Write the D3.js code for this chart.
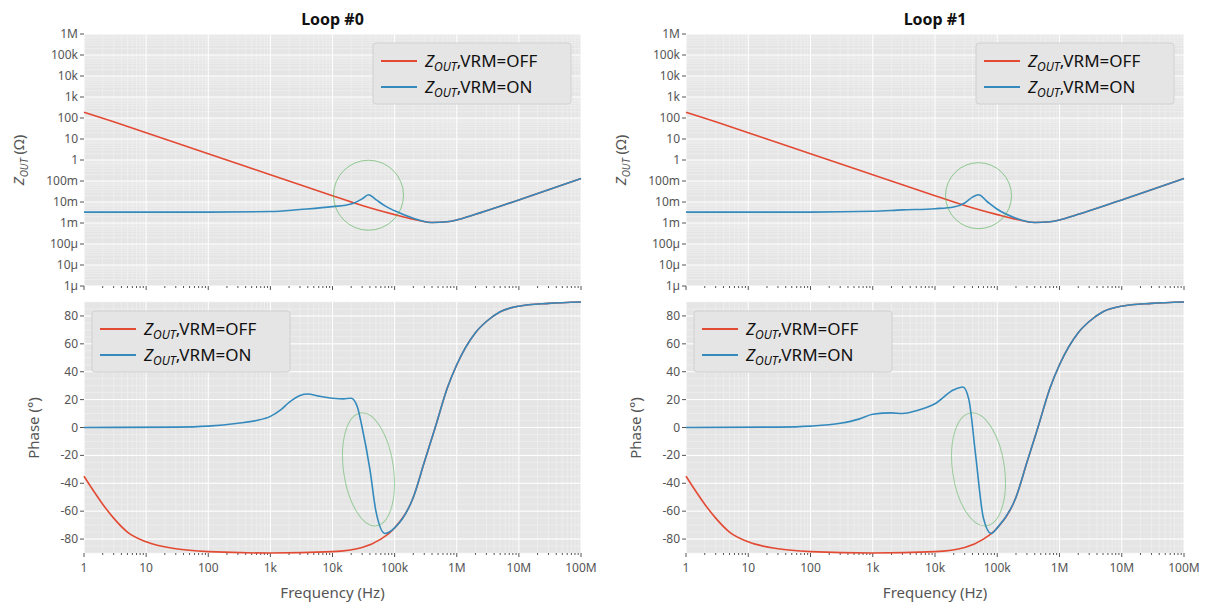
<!DOCTYPE html>
<html><head><meta charset="utf-8">
<script src="https://cdn.jsdelivr.net/npm/d3@7"></script>
<style>body{margin:0;background:#fff}text{font-family:"Noto Sans",sans-serif}</style>
</head><body><svg id="c" width="1211" height="611"></svg>
<script>
const freqMag=[1,3,10,30,100,300,1e3,3e3,1e4,3e4,1e5,2e5,4e5,7e5,1e6,2e6,5e6,1e7,3e7,1e8];
const offMag=[190,66,20,6.6,2,0.66,0.2,0.066,0.02,0.0068,0.0025,0.0015,0.00105,0.00115,0.0014,0.0026,0.0063,0.0126,0.038,0.13];
const freqOn0=[1,100,1e3,3e3,1e4,2e4,3e4,38e3,5e4,7e4,1e5,2e5,4e5,7e5,1e6,2e6,5e6,1e7,3e7,1e8];
const onMag0=[3.3e-3,3.3e-3,3.5e-3,4.4e-3,6e-3,8e-3,14e-3,22e-3,13e-3,6.5e-3,3.8e-3,1.7e-3,0.00105,0.00115,0.0014,0.0026,0.0063,0.0126,0.038,0.13];
const freqOn1=[1,100,1e3,3e3,1e4,2e4,3e4,4e4,5e4,7e4,1e5,2e5,4e5,7e5,1e6,2e6,5e6,1e7,3e7,1e8];
const onMag1=[3.3e-3,3.3e-3,3.6e-3,4.2e-3,4.8e-3,5.8e-3,9e-3,17e-3,22e-3,10e-3,4.5e-3,1.7e-3,0.00105,0.00115,0.0014,0.0026,0.0063,0.0126,0.038,0.13];
const freqPh=[1,2,3,5,10,30,100,1e3,1e4,3e4,6e4,1e5,2e5,3e5,4.5e5,7e5,1e6,2e6,3e6,5e6,1e7,3e7,1e8];
const offPh=[-35,-55,-65,-75,-82,-87,-89,-90,-89,-86,-80,-72,-50,-25,0,28,45,68,76,83,87,89,90];
const freqPh0=[1,30,100,300,600,1e3,1.5e3,2e3,3e3,4e3,6e3,1e4,1.5e4,2e4,25e3,3e4,4e4,5e4,7e4,1e5,2e5,3e5,4.5e5,7e5,1e6,2e6,3e6,5e6,1e7,3e7,1e8];
const onPh0=[0,0.3,1,3,5,8,13,18,23,24,22.5,21,20.5,21,15,0,-30,-60,-76,-72,-50,-25,0,28,45,68,76,83,87,89,90];
const freqPh1=[1,30,100,300,600,1e3,2e3,3e3,5e3,1e4,2e4,28e3,35e3,45e3,6e4,8e4,1e5,2e5,3e5,4.5e5,7e5,1e6,2e6,3e6,5e6,1e7,3e7,1e8];
const onPh1=[0,0.3,1,3,6,9.5,10.5,10,12,17,27,29,20,-20,-65,-76,-72,-50,-25,0,28,45,68,76,83,87,89,90];
const xTicks=["1","10","100","1k","10k","100k","1M","10M","100M"];
const magTicks=["1µ","10µ","100µ","1m","10m","100m","1","10","100","1k","10k","100k","1M"];
const phTicks=[-80,-60,-40,-20,0,20,40,60,80];
const titles=["Loop #0","Loop #1"];

const svg=d3.select("#c");
const RED="#E24A33",BLUE="#348ABD";
const panels=[{x0:84,x1:581},{x0:686,x1:1184}];
const onMag=[[freqOn0,onMag0],[freqOn1,onMag1]], onPh=[[freqPh0,onPh0],[freqPh1,onPh1]];
const ells=[[38e3,0.021,35,35,0,-30,-68,25,57,-8],[5e4,0.02,33,33,0,-30,-68,26,57,-8]];
panels.forEach((p,i)=>{
  const x=d3.scaleLog().domain([1,1e8]).range([p.x0,p.x1]);
  const yM=d3.scaleLog().domain([1e-6,1e6]).range([286,34]);
  const yP=d3.scaleLinear().domain([-90,90]).range([553,302]);
  function frame(y,y0,y1,majY,minY){
    const g=svg.append("g");
    g.append("rect").attr("x",p.x0).attr("y",y1).attr("width",p.x1-p.x0).attr("height",y0-y1).attr("fill","#e5e5e5");
    const minX=[];for(let d=0;d<8;d++)for(let k=2;k<10;k++)minX.push(k*10**d);
    minX.forEach(v=>g.append("line").attr("x1",x(v)).attr("x2",x(v)).attr("y1",y1).attr("y2",y0).attr("stroke","#f2f2f2").attr("stroke-width",0.6));
    minY.forEach(v=>g.append("line").attr("x1",p.x0).attr("x2",p.x1).attr("y1",y(v)).attr("y2",y(v)).attr("stroke","#f2f2f2").attr("stroke-width",0.6));
    xTicks.forEach((t,k)=>g.append("line").attr("x1",x(10**k)).attr("x2",x(10**k)).attr("y1",y1).attr("y2",y0).attr("stroke","#fff").attr("stroke-width",1));
    majY.forEach(v=>g.append("line").attr("x1",p.x0).attr("x2",p.x1).attr("y1",y(v)).attr("y2",y(v)).attr("stroke","#fff").attr("stroke-width",1));
    xTicks.forEach((t,k)=>g.append("line").attr("x1",x(10**k)).attr("x2",x(10**k)).attr("y1",y0).attr("y2",y0+4).attr("stroke","#555"));
    minX.forEach(v=>g.append("line").attr("x1",x(v)).attr("x2",x(v)).attr("y1",y0).attr("y2",y0+2).attr("stroke","#555"));
    majY.forEach(v=>g.append("line").attr("x1",p.x0-4).attr("x2",p.x0).attr("y1",y(v)).attr("y2",y(v)).attr("stroke","#555"));
    return g;
  }
  const minM=[];for(let d=-6;d<6;d++)for(let k=2;k<10;k++)minM.push(k*10**d);
  const gm=frame(yM,286,34,magTicks.map((t,k)=>10**(k-6)),minM);
  magTicks.forEach((t,k)=>gm.append("text").attr("x",p.x0-6).attr("y",yM(10**(k-6))+4).attr("text-anchor","end").attr("font-size",12).attr("fill","#555").text(t));
  const lineM=d3.line().x(d=>x(d[0])).y(d=>yM(d[1])).curve(d3.curveMonotoneX);
  gm.append("path").attr("d",lineM(freqMag.map((f,k)=>[f,offMag[k]]))).attr("fill","none").attr("stroke",RED).attr("stroke-width",1.6);
  gm.append("path").attr("d",lineM(onMag[i][0].map((f,k)=>[f,onMag[i][1][k]]))).attr("fill","none").attr("stroke",BLUE).attr("stroke-width",1.6);
  const e=ells[i];
  gm.append("circle").attr("cx",x(e[0])).attr("cy",yM(e[1])).attr("r",e[2]).attr("fill","none").attr("stroke","#4caf50").attr("stroke-opacity",0.6);
  gm.append("text").attr("x",(p.x0+p.x1)/2).attr("y",25).attr("text-anchor","middle").attr("font-size",16).attr("font-weight","bold").attr("fill","#111").text(titles[i]);
  const yl=gm.append("text").attr("transform",`translate(${p.x0-60},160) rotate(-90)`).attr("text-anchor","middle").attr("font-size",15).attr("fill","#555");
  yl.append("tspan").attr("font-style","italic").text("Z");
  yl.append("tspan").attr("font-style","italic").attr("font-size",10).attr("dy",4).text("OUT");
  yl.append("tspan").attr("dy",-4).text(" (Ω)");
  const minP=d3.range(-90,91,5);
  const gp=frame(yP,553,302,phTicks,minP);
  phTicks.forEach(v=>gp.append("text").attr("x",p.x0-6).attr("y",yP(v)+4).attr("text-anchor","end").attr("font-size",12).attr("fill","#555").text(v));
  xTicks.forEach((t,k)=>gp.append("text").attr("x",x(10**k)).attr("y",572).attr("text-anchor","middle").attr("font-size",12).attr("fill","#555").text(t));
  const lineP=d3.line().x(d=>x(d[0])).y(d=>yP(d[1])).curve(d3.curveMonotoneX);
  gp.append("path").attr("d",lineP(freqPh.map((f,k)=>[f,offPh[k]]))).attr("fill","none").attr("stroke",RED).attr("stroke-width",1.6);
  gp.append("path").attr("d",lineP(onPh[i][0].map((f,k)=>[f,onPh[i][1][k]]))).attr("fill","none").attr("stroke",BLUE).attr("stroke-width",1.6);
  gp.append("ellipse").attr("transform",`translate(${x(e[0])},${yP(e[5])}) rotate(${e[9]})`).attr("rx",e[7]).attr("ry",e[8]).attr("fill","none").attr("stroke","#4caf50").attr("stroke-opacity",0.5);
  gp.append("text").attr("transform",`translate(${p.x0-45},428) rotate(-90)`).attr("text-anchor","middle").attr("font-size",15).attr("fill","#555").text("Phase (°)");
  gp.append("text").attr("x",(p.x0+p.x1)/2).attr("y",598).attr("text-anchor","middle").attr("font-size",15).attr("fill","#555").text("Frequency (Hz)");
  function legend(g,lx,ly){
    g.append("rect").attr("x",lx).attr("y",ly).attr("width",198).attr("height",61).attr("rx",3).attr("fill","#e5e5e5").attr("stroke","#ccc").attr("stroke-width",0.8);
    [[RED,"VRM=OFF"],[BLUE,"VRM=ON"]].forEach((s,k)=>{
      const yy=ly+18+k*26;
      g.append("line").attr("x1",lx+8).attr("x2",lx+44).attr("y1",yy).attr("y2",yy).attr("stroke",s[0]).attr("stroke-width",1.8);
      const t=g.append("text").attr("x",lx+52).attr("y",yy+6).attr("font-size",17).attr("fill","#111");
      t.append("tspan").attr("font-style","italic").text("Z");
      t.append("tspan").attr("font-style","italic").attr("font-size",12).attr("dy",4).text("OUT");
      t.append("tspan").attr("dy",-4).text(","+s[1]);
    });
  }
  legend(gm,p.x1-208,43);
  legend(gp,p.x0+8,311);
});
</script></body></html>
